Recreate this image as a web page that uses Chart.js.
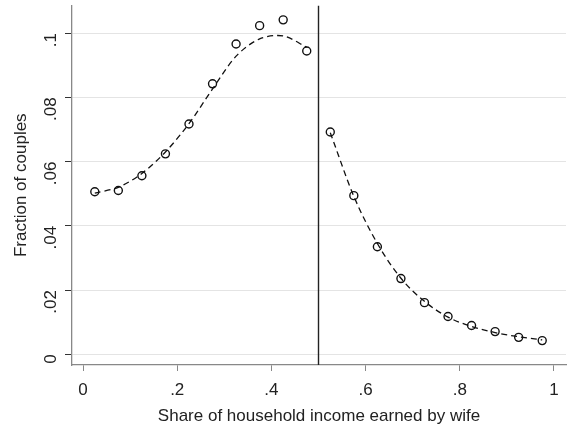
<!DOCTYPE html>
<html>
<head>
<meta charset="utf-8">
<script src="https://cdn.jsdelivr.net/npm/chart.js@4/dist/chart.umd.min.js"></script>
<style>
  html, body { margin: 0; padding: 0; background: #fff; }
  #wrap { width: 576px; height: 430px; }
</style>
</head>
<body>
<div id="wrap"><canvas id="rdChart"></canvas></div>
<script>
// bin midpoints (share of income earned by wife)
const binsLeft = [0.025, 0.075, 0.125, 0.175, 0.225, 0.275, 0.325, 0.375, 0.425, 0.475];
const binsRight = [0.525, 0.575, 0.625, 0.675, 0.725, 0.775, 0.825, 0.875, 0.925, 0.975];

// observed fraction of couples per bin
const fracLeft = [0.0506, 0.0510, 0.0556, 0.0624, 0.0717, 0.0842, 0.0966, 0.1023, 0.1041, 0.0944];
const fracRight = [0.0692, 0.0494, 0.0335, 0.0236, 0.0161, 0.0118, 0.0090, 0.0071, 0.0053, 0.0043];

// fitted values (dashed lines)
const fitLeft = [0.0502, 0.0520, 0.0563, 0.0630, 0.0718, 0.0826, 0.0928, 0.0982, 0.0991, 0.0956];
const fitRight = [0.0690, 0.0492, 0.0345, 0.0237, 0.0165, 0.0116, 0.0087, 0.0068, 0.0055, 0.0045];

const xTicks = [0, 0.2, 0.4, 0.6, 0.8, 1];
const yTicks = [0, 0.02, 0.04, 0.06, 0.08, 0.1];
const cutoff = 0.5;

const xMin = -0.0234, xMax = 1.0255;
const yMin = -0.0033, yMax = 0.1086;

function stataLabel(v) {
    if (Math.abs(v) < 1e-9) return '0';
    if (Math.abs(v - 1) < 1e-9) return '1';
    return String(Math.round(v * 100) / 100).replace(/^0/, '');
}

const pts = (xs, ys) => xs.map((x, i) => ({ x: x, y: ys[i] }));
const txtFont = { family: 'Liberation Sans, Arial', size: 17 };

new Chart(document.getElementById('rdChart').getContext('2d'), {
    type: 'scatter',
    data: {
        datasets: [
            {
                label: 'Fraction',
                data: pts(binsLeft, fracLeft).concat(pts(binsRight, fracRight)),
                pointRadius: 4,
                pointBorderWidth: 1.4,
                pointBorderColor: '#111',
                pointBackgroundColor: 'transparent',
                showLine: false
            },
            {
                label: 'Fit left',
                data: pts(binsLeft, fitLeft),
                showLine: true,
                borderColor: '#111',
                borderWidth: 1.3,
                borderDash: [6, 4],
                tension: 0.3,
                pointRadius: 0
            },
            {
                label: 'Fit right',
                data: pts(binsRight, fitRight),
                showLine: true,
                borderColor: '#111',
                borderWidth: 1.3,
                borderDash: [6, 4],
                cubicInterpolationMode: 'monotone',
                pointRadius: 0
            },
            {
                label: 'Cutoff',
                data: [{ x: cutoff, y: yMin }, { x: cutoff, y: yMax }],
                showLine: true,
                borderColor: '#222',
                borderWidth: 1.4,
                pointRadius: 0
            }
        ]
    },
    options: {
        responsive: true,
        maintainAspectRatio: false,
        animation: false,
        layout: { padding: { left: 0, right: 10, top: 5, bottom: 0 } },
        plugins: {
            legend: { display: false },
            tooltip: { enabled: false }
        },
        scales: {
            x: {
                type: 'linear',
                min: xMin,
                max: xMax,
                afterBuildTicks: (axis) => { axis.ticks = xTicks.map(v => ({ value: v })); },
                afterFit: (axis) => {
                    axis.height = 65;
                    axis.paddingLeft = 0;
                    axis.paddingRight = 0;
                },
                ticks: {
                    callback: (v) => stataLabel(v),
                    color: '#222',
                    font: txtFont,
                    maxRotation: 0,
                    padding: 9
                },
                grid: { color: 'transparent', tickColor: '#888', tickLength: 6, drawOnChartArea: false },
                border: { color: '#888', width: 1.3 },
                title: {
                    display: true,
                    text: 'Share of household income earned by wife',
                    color: '#222',
                    font: txtFont,
                    padding: { top: 0, bottom: 3 }
                }
            },
            y: {
                type: 'linear',
                min: yMin,
                max: yMax,
                afterBuildTicks: (axis) => { axis.ticks = yTicks.map(v => ({ value: v })); },
                afterFit: (axis) => {
                    axis.width = 72;
                    axis.paddingTop = 0;
                    axis.paddingBottom = 0;
                },
                ticks: {
                    callback: (v) => stataLabel(v),
                    color: '#222',
                    font: txtFont,
                    minRotation: 90,
                    maxRotation: 90,
                    padding: 14
                },
                grid: { color: '#e4e4e4', lineWidth: 1, tickColor: '#333', tickLength: 7 },
                border: { color: '#888', width: 1.3 },
                title: {
                    display: true,
                    text: 'Fraction of couples',
                    color: '#222',
                    font: txtFont,
                    padding: { top: 11, bottom: 0 }
                }
            }
        }
    }
});
</script>
</body>
</html>
